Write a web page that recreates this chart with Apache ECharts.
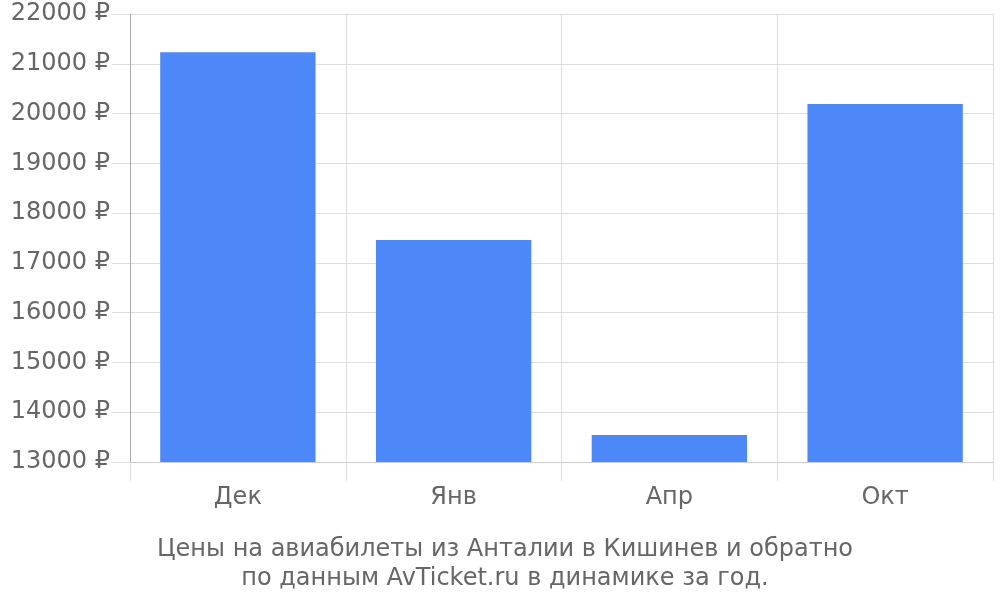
<!DOCTYPE html>
<html>
<head>
    <meta charset="utf-8">
    <title>Цены на авиабилеты</title>
    <script src="https://cdn.jsdelivr.net/npm/echarts@6/dist/echarts.min.js"></script>
    <style>
        html, body { margin: 0; padding: 0; background: #fff; }
        #chart1 { width: 1000px; height: 600px; }
    </style>
</head>
<body>
<div id="chart1"></div>
<script type="text/javascript">
    // данные графика
    var months = ['Дек', 'Янв', 'Апр', 'Окт'];
    var prices = [21230, 17460, 13540, 20190];
    var yMin = 13000, yMax = 22000, yStep = 1000;

    var myChart1 = echarts.init(document.getElementById('chart1'));
    myChart1.setOption({
        textStyle: { fontFamily: 'DejaVu Sans' },
        title: {
            text: 'Цены на авиабилеты из Анталии в Кишинев и обратно\nпо данным AvTicket.ru в динамике за год.',
            left: 500,
            top: 530,
            textAlign: 'center',
            textStyle: { fontSize: 24, fontWeight: 'normal', color: '#666', lineHeight: 29 }
        },
        grid: { left: 130, right: 7, top: 14, bottom: 138 },
        xAxis: {
            type: 'category',
            data: months,
            axisLine: { show: true, lineStyle: { color: '#ccc' } },
            axisTick: { show: true, length: 19, lineStyle: { color: '#ddd' } },
            splitLine: { show: true, lineStyle: { color: '#ddd' } },
            axisLabel: { show: true, fontSize: 24, color: '#666', margin: 24 }
        },
        yAxis: {
            type: 'value',
            min: yMin,
            max: yMax,
            interval: yStep,
            axisLine: { show: true, lineStyle: { color: '#aaa' } },
            axisTick: { show: true, length: 18, lineStyle: { color: '#ddd' } },
            splitLine: { show: true, lineStyle: { color: '#ddd' } },
            axisLabel: {
                fontSize: 24, color: '#666', margin: 20,
                formatter: function (v) { return v + ' ₽'; }
            }
        },
        series: [{
            type: 'bar',
            data: prices,
            barCategoryGap: '28%',
            itemStyle: { color: '#4d88f9' }
        }]
    });
</script>
</body>
</html>
